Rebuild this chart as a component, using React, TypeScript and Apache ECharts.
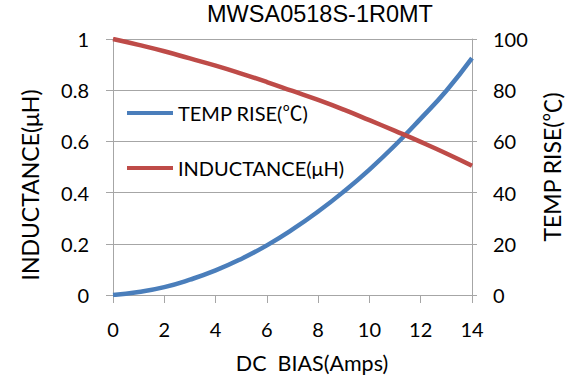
import React, { useEffect, useRef } from "react";
import * as echarts from "echarts";

const chartTitle = "MWSA0518S-1R0MT";
const biasAmps = [0, 1, 2, 3, 4, 5, 6, 7, 8, 9, 10, 11, 12, 13, 14];
const tempRise = [0, 1.2, 3.1, 6.0, 9.6, 14.1, 19.4, 25.6, 32.6, 40.4, 49.0, 58.5, 68.9, 79.8, 92.5];
const inductance = [1.0, 0.977, 0.952, 0.924, 0.896, 0.865, 0.832, 0.797, 0.762, 0.724, 0.683, 0.641, 0.598, 0.553, 0.505];
const tempName = "TEMP RISE(℃)";
const indName = "INDUCTANCE(μH)";
const xName = "DC  BIAS(Amps)";

const FONT = "Lato, 'Noto Sans CJK SC', 'Noto Sans', sans-serif";
const GRID = "#a6a6a6";

export default function App() {
  const ref = useRef<HTMLDivElement>(null);
  useEffect(() => {
    if (!ref.current) return;
    const chart = echarts.init(ref.current, null, { renderer: "svg" });
    const tempData = biasAmps.map((x, i) => [x, tempRise[i]]);
    const indData = biasAmps.map((x, i) => [x, inductance[i]]);
    chart.setOption({
      animation: false,
      backgroundColor: "#ffffff",
      graphic: [
        {
          type: "text",
          x: 320,
          y: 14,
          style: {
            text: chartTitle,
            align: "center",
            verticalAlign: "middle",
            fontFamily: "'Liberation Sans', Arial, sans-serif",
            fontSize: 23.5,
            fill: "#000",
          },
        },
      ],
      grid: { left: 113, right: 83, top: 39, bottom: 89, containLabel: false },
      legend: {
        orient: "vertical",
        left: 122,
        top: 96,
        itemWidth: 46,
        itemHeight: 4,
        itemGap: 31,
        icon: "rect",
        data: [tempName, indName],
        textStyle: { fontFamily: FONT, fontSize: 20, color: "#000", lineHeight: 24 },
      },
      xAxis: {
        type: "value",
        min: 0,
        max: 14,
        interval: 2,
        name: xName,
        nameLocation: "middle",
        nameGap: 57,
        nameTextStyle: { fontFamily: FONT, fontSize: 21.5, color: "#000", padding: [0, 0, 0, 39] },
        axisLine: { show: true, lineStyle: { color: GRID, width: 1 } },
        axisTick: { show: true, length: 8, lineStyle: { color: GRID } },
        axisLabel: { margin: 24, fontFamily: FONT, fontSize: 20, color: "#000" },
        splitLine: { show: false },
      },
      yAxis: [
        {
          type: "value",
          min: 0,
          max: 1,
          interval: 0.2,
          position: "left",
          name: indName,
          nameLocation: "middle",
          nameRotate: 90,
          nameGap: 72,
          nameTextStyle: { fontFamily: FONT, fontSize: 23, color: "#000", padding: [0, 36, 0, 0] },
          axisLine: { show: true, lineStyle: { color: GRID, width: 1 } },
          axisTick: { show: true, length: 7, lineStyle: { color: GRID } },
          axisLabel: { margin: 24, fontFamily: FONT, fontSize: 20, color: "#000" },
          splitLine: { show: true, lineStyle: { color: GRID, width: 1 } },
        },
        {
          type: "value",
          min: 0,
          max: 100,
          interval: 20,
          position: "right",
          name: tempName,
          nameLocation: "middle",
          nameRotate: 90,
          nameGap: 68,
          nameTextStyle: { fontFamily: FONT, fontSize: 23, color: "#000" },
          axisLine: { show: true, lineStyle: { color: GRID, width: 1 } },
          axisTick: { show: true, length: 5, lineStyle: { color: GRID } },
          axisLabel: { margin: 21, fontFamily: FONT, fontSize: 20, color: "#000" },
          splitLine: { show: false },
        },
      ],
      series: [
        {
          name: tempName,
          type: "line",
          yAxisIndex: 1,
          data: tempData,
          smooth: true,
          showSymbol: false,
          symbol: "none",
          color: "#4a7ebb",
          lineStyle: { color: "#4a7ebb", width: 4.5 },
        },
        {
          name: indName,
          type: "line",
          yAxisIndex: 0,
          data: indData,
          smooth: true,
          showSymbol: false,
          symbol: "none",
          color: "#be4b48",
          lineStyle: { color: "#be4b48", width: 4.5 },
        },
      ],
    });
    return () => chart.dispose();
  }, []);
  return <div ref={ref} style={{ width: 571, height: 384, position: "absolute", left: 0, top: 0 }} />;
}
